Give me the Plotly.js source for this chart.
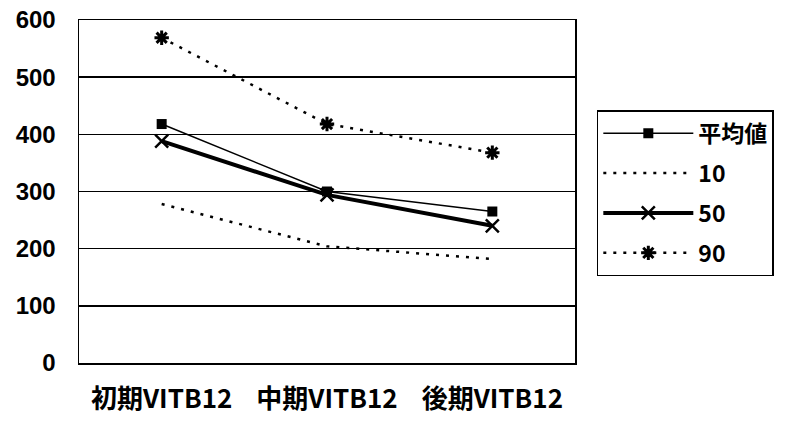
<!DOCTYPE html>
<html>
<head>
<meta charset="utf-8">
<script src="https://cdn.plot.ly/plotly-3.0.1.min.js"></script>
<style>
  html, body { margin: 0; padding: 0; background: #fff; }
  #chart { width: 792px; height: 424px; }
</style>
</head>
<body>
<div id="chart"></div>
<script>
// Categories (x axis)
const categories = ['初期VITB12', '中期VITB12', '後期VITB12'];

// Series values
const meanValues = [418, 300, 265];
const p10Values = [278, 204, 182];
const p50Values = [388, 294, 240];
const p90Values = [569, 418, 368];

// Series names
const seriesNames = ['平均値', '10', '50', '90'];

// Y axis ticks
const yTicks = [0, 100, 200, 300, 400, 500, 600];

const jpFont = '"Noto Sans CJK JP", "Liberation Sans", sans-serif';
const dotted = '3px,7px';

const traces = [
  {
    x: categories, y: meanValues, name: seriesNames[0], type: 'scatter', mode: 'lines+markers',
    line: { color: '#000', width: 1.5 },
    marker: { symbol: 'square', size: 10, color: '#000' },
    legendgroup: 'a'
  },
  {
    x: categories, y: p10Values, name: seriesNames[1], type: 'scatter', mode: 'lines',
    line: { color: '#000', width: 2.5, dash: dotted },
    legendgroup: 'b'
  },
  {
    x: categories, y: p50Values, name: seriesNames[2], type: 'scatter', mode: 'lines+markers',
    line: { color: '#000', width: 4 },
    marker: { symbol: 'x-thin-open', size: 13, color: '#000', line: { color: '#000', width: 2.5 } },
    legendgroup: 'c'
  },
  {
    x: categories, y: p90Values, name: seriesNames[3], type: 'scatter', mode: 'lines+markers',
    line: { color: '#000', width: 2.5, dash: dotted },
    marker: { symbol: 'asterisk-open', size: 12, color: '#000', line: { color: '#000', width: 3 } },
    legendgroup: 'd'
  }
];

const layout = {
  width: 792,
  height: 424,
  margin: { l: 79, r: 217, t: 20, b: 61 },
  paper_bgcolor: '#fff',
  plot_bgcolor: '#fff',
  font: { family: jpFont, color: '#000' },
  showlegend: true,
  legend: {
    x: 1.044, y: 0.737, xanchor: 'left', yanchor: 'top',
    bordercolor: '#000', borderwidth: 1.5,
    font: { family: jpFont, size: 23, color: '#000', weight: 'bold' },
    tracegroupgap: 7,
    itemwidth: 90
  },
  xaxis: {
    type: 'category',
    range: [-0.5, 2.5],
    showgrid: false,
    showline: true, linecolor: '#000', linewidth: 1.5, mirror: true,
    ticks: '',
    tickfont: { family: jpFont, size: 26, color: '#000', weight: 'bold' },
    ticklabelstandoff: 12,
    zeroline: false
  },
  yaxis: {
    range: [0, 600],
    tickvals: yTicks,
    ticktext: yTicks.map(String),
    showgrid: true, gridcolor: '#000', gridwidth: 1.5,
    showline: true, linecolor: '#000', linewidth: 1.5, mirror: true,
    ticks: '',
    tickfont: { family: '"Liberation Sans", Arial, sans-serif', size: 24, color: '#000', weight: 'bold' },
    ticklabelstandoff: 17,
    zeroline: false
  }
};

Plotly.newPlot('chart', traces, layout, { displayModeBar: false, staticPlot: true });
</script>
</body>
</html>
